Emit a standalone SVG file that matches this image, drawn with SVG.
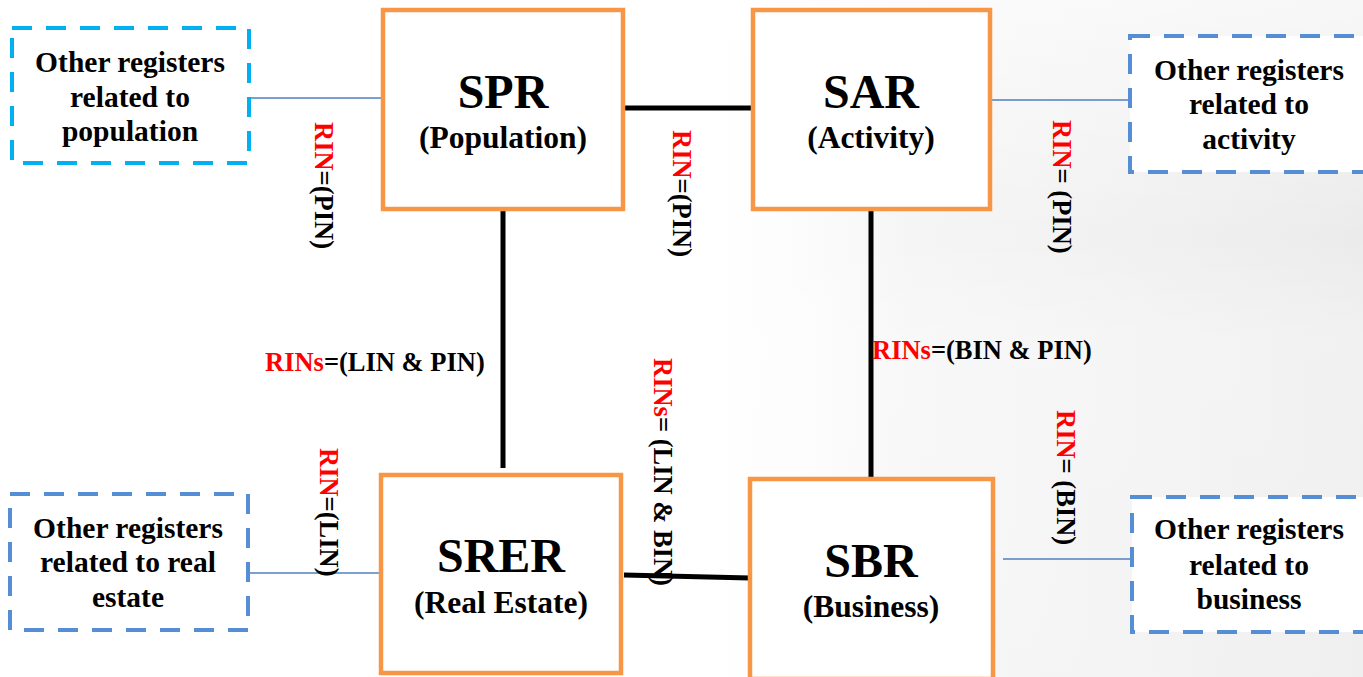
<svg xmlns="http://www.w3.org/2000/svg" width="1363" height="677" viewBox="0 0 1363 677">
<style>
text{font-family:"Liberation Serif","Times New Roman",serif;font-weight:bold;fill:#000}
.main{stroke:#F79646;stroke-width:4.5;fill:#fff}
.dash{stroke:#558ED5;stroke-width:4;fill:#fff;stroke-dasharray:20 14}
.dashc{stroke:#00B0F0;stroke-width:4;fill:#fff;stroke-dasharray:20 14}
.thick{stroke:#000;stroke-width:5;fill:none}
.thin{stroke:#4F81BD;stroke-width:1.6;fill:none}
.t1{font-size:48px;text-anchor:middle}
.t2{font-size:31.5px;text-anchor:middle}
.o{font-size:29.5px;text-anchor:middle}
.lb{font-size:26.5px}
.r{fill:#FF0000}
</style>
<defs>
<linearGradient id="bg" x1="0" y1="0" x2="1" y2="0">
<stop offset="0" stop-color="#ffffff" stop-opacity="0"/>
<stop offset="0.35" stop-color="#f1f1f1" stop-opacity="0.7"/>
<stop offset="1" stop-color="#ebebeb" stop-opacity="1"/>
</linearGradient>
<linearGradient id="bgv" x1="0" y1="0" x2="0" y2="1">
<stop offset="0" stop-color="#ffffff" stop-opacity="0.6"/>
<stop offset="0.35" stop-color="#ffffff" stop-opacity="0"/>
<stop offset="0.5" stop-color="#ffffff" stop-opacity="0.3"/>
<stop offset="1" stop-color="#ffffff" stop-opacity="0.2"/>
</linearGradient>
</defs>
<rect x="0" y="0" width="1363" height="677" fill="#fff"/>
<rect x="660" y="0" width="703" height="677" fill="url(#bg)"/>
<rect x="660" y="0" width="703" height="677" fill="url(#bgv)"/>
<g id="connectors">
<line class="thin" x1="250" y1="98" x2="383" y2="98"/>
<line class="thick" x1="623" y1="108" x2="753" y2="108"/>
<line class="thin" x1="990" y1="100" x2="1128" y2="100"/>
<line class="thick" x1="503" y1="209" x2="503" y2="468"/>
<line class="thick" x1="871" y1="209" x2="871" y2="479"/>
<line class="thick" x1="624" y1="575" x2="750" y2="578"/>
<line class="thin" x1="248" y1="573" x2="379" y2="573"/>
<line class="thin" x1="1003" y1="559" x2="1133" y2="559"/>
<g id="labels">
<text class="lb" transform="translate(315,122) rotate(90)"><tspan class="r">RIN</tspan>=(PIN)</text>
<text class="lb" transform="translate(673,130) rotate(90)"><tspan class="r">RIN</tspan>=(PIN)</text>
<text class="lb" transform="translate(1053,120) rotate(90)"><tspan class="r">RIN</tspan>= (PIN)</text>
<text class="lb" x="265" y="371"><tspan class="r">RINs</tspan>=(LIN &amp; PIN)</text>
<text class="lb" x="872" y="359"><tspan class="r">RINs</tspan>=(BIN &amp; PIN)</text>
<text class="lb" transform="translate(320,448) rotate(90)"><tspan class="r">RIN</tspan>=(LIN)</text>
<text class="lb" transform="translate(654,358) rotate(90)"><tspan class="r">RINs</tspan>= (LIN &amp; BIN)</text>
<text class="lb" transform="translate(1057,410) rotate(90)"><tspan class="r">RIN</tspan>= (BIN)</text>
</g>
</g>
<g id="other-population">
<rect class="dashc" x="12" y="28" width="237" height="135"/>
<text class="o" x="130" y="72">Other registers</text>
<text class="o" x="130" y="107">related to</text>
<text class="o" x="130" y="141">population</text>
</g>
<g id="spr">
<rect class="main" x="383" y="10" width="240" height="199"/>
<text class="t1" x="503" y="108">SPR</text>
<text class="t2" x="503" y="148">(Population)</text>
</g>
<g id="sar">
<rect class="main" x="753" y="10" width="237" height="199"/>
<text class="t1" x="871" y="108">SAR</text>
<text class="t2" x="871" y="148">(Activity)</text>
</g>
<g id="other-activity">
<rect class="dash" x="1130" y="36" width="240" height="136"/>
<text class="o" x="1249" y="80">Other registers</text>
<text class="o" x="1249" y="114">related to</text>
<text class="o" x="1249" y="149">activity</text>
</g>
<g id="other-realestate">
<rect class="dash" x="10" y="494" width="238" height="136"/>
<text class="o" x="128" y="538">Other registers</text>
<text class="o" x="128" y="572">related to real</text>
<text class="o" x="128" y="607">estate</text>
</g>
<g id="srer">
<rect class="main" x="381" y="475" width="240" height="198"/>
<text class="t1" x="501" y="572">SRER</text>
<text class="t2" x="501" y="613">(Real Estate)</text>
</g>
<g id="sbr">
<rect class="main" x="750" y="479" width="243" height="200"/>
<text class="t1" x="871" y="577">SBR</text>
<text class="t2" x="871" y="617">(Business)</text>
</g>
<g id="other-business">
<rect class="dash" x="1132" y="497" width="240" height="135"/>
<text class="o" x="1249" y="539">Other registers</text>
<text class="o" x="1249" y="575">related to</text>
<text class="o" x="1249" y="609">business</text>
</g>
</svg>
